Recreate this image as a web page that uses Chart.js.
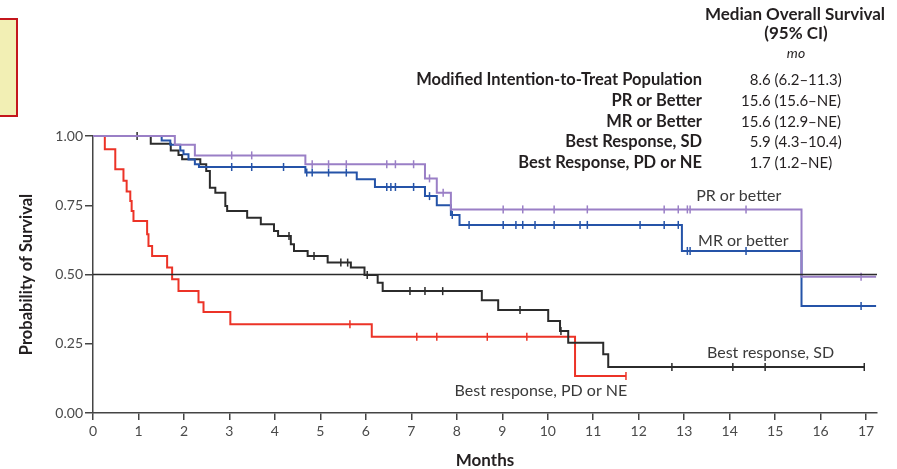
<!DOCTYPE html>
<html>
<head>
<meta charset="utf-8">
<script src="https://cdn.jsdelivr.net/npm/chart.js@4.4.1/dist/chart.umd.min.js"></script>
<style>
html, body { margin: 0; padding: 0; background: #fff; }
#wrap { position: relative; width: 897px; height: 469px; }
#note { position: absolute; left: -3px; top: 18px; width: 17px; height: 95px; background: #f2efb4; border: 2px solid #c4161c; }
</style>
</head>
<body>
<div id="wrap">
  <canvas id="km" width="897" height="469"></canvas>
  <div id="note"></div>
</div>
<script>
// Courbes de Kaplan-Meier : temps des événements (mois) et survie après chaque événement
const prTimes = [1.80, 2.24, 4.67, 7.30, 7.56, 7.87, 15.58];
const prSurv = [0.968, 0.930, 0.898, 0.847, 0.795, 0.735, 0.492];
const prCensor = [3.05, 3.49, 4.82, 5.18, 5.57, 6.46, 6.65, 7.05, 7.40, 7.70,
    9.02, 9.45, 10.14, 10.87, 12.56, 12.87, 13.07, 13.13, 14.36, 16.89];

const mrTimes = [1.51, 1.70, 1.92, 1.99, 2.10, 2.24, 2.33, 4.67, 5.80, 6.20, 7.30, 7.56, 7.87, 8.06, 12.95, 15.58];
const mrSurv = [0.984, 0.968, 0.948, 0.934, 0.915, 0.898, 0.888, 0.868, 0.844, 0.816, 0.783, 0.750, 0.715, 0.679, 0.585, 0.386];
const mrCensor = [3.05, 3.49, 4.19, 4.70, 4.82, 5.18, 5.57, 6.46, 6.55, 6.65, 7.05, 7.40, 7.90,
    8.27, 9.02, 9.30, 9.45, 9.72, 10.14, 10.71, 10.87, 12.03, 12.56, 12.87, 13.07, 13.13, 14.36, 16.89];

const sdTimes = [1.27, 1.71, 1.88, 1.96, 2.36, 2.49, 2.57, 2.69, 2.91, 2.95, 3.39, 3.69, 3.98, 4.07,
    4.35, 4.42, 4.72, 5.16, 5.67, 5.97, 6.26, 6.37, 8.55, 8.91, 10.01, 10.27, 10.45, 11.22, 11.33];
const sdSurv = [0.972, 0.948, 0.931, 0.916, 0.898, 0.874, 0.813, 0.795, 0.747, 0.729, 0.705, 0.681, 0.657, 0.639,
    0.609, 0.585, 0.567, 0.543, 0.525, 0.498, 0.470, 0.440, 0.407, 0.372, 0.332, 0.296, 0.254, 0.212, 0.166];
const sdCensor = [0.97, 4.31, 4.86, 5.45, 5.60, 6.03, 6.97, 7.30, 7.69, 9.39, 10.29, 12.73, 14.07, 14.78, 16.96];

const pdTimes = [0.26, 0.49, 0.67, 0.74, 0.82, 0.85, 0.89, 1.19, 1.22, 1.30, 1.63, 1.74, 1.88, 2.32, 2.43, 3.02, 6.13, 10.60];
const pdSurv = [0.952, 0.880, 0.838, 0.800, 0.765, 0.729, 0.693, 0.645, 0.603, 0.567, 0.525, 0.483, 0.440, 0.400, 0.365, 0.320, 0.275, 0.134];
const pdCensor = [5.65, 7.12, 7.56, 8.67, 9.54, 11.72];

// fin de suivi de chaque courbe
const followUpEnd = [17.22, 17.22, 16.96, 11.72];

const curveNames = ['PR or better', 'MR or better', 'Best response, SD', 'Best response, PD or NE'];

// Tableau des médianes
const tableGroups = ['Modified Intention-to-Treat Population', 'PR or Better', 'MR or Better',
    'Best Response, SD', 'Best Response, PD or NE'];
const tableMedians = ['8.6 (6.2\u201311.3)', '15.6 (15.6\u2013NE)', '15.6 (12.9\u2013NE)',
    '5.9 (4.3\u201310.4)', '1.7 (1.2\u2013NE)'];

const monthMax = 17.24;
const refLevel = 0.5;

const FONT = 'Lato, "Open Sans", sans-serif';
const colors = ['#9a7fc6', '#2553a8', '#2b2b2b', '#ec3327'];

/**
 */
function survAt(times, surv, t){
    let s = 1;
    for(let i = 0; i < times.length; i++){
        if(times[i] <= t) s = surv[i];
    }
    return s;
}

/**
 * Points de la courbe (escalier) : départ à 1, chaque événement, fin du suivi
 */
function stepPoints(times, surv, end){
    let pts = [{x: 0, y: 1}];
    times.forEach(function(t, i){
        pts.push({x: t, y: surv[i]});
    });
    pts.push({x: end, y: surv[surv.length - 1]});
    return pts;
}

function censorPoints(times, surv, censor){
    return censor.map(function(t){
        return {x: t, y: survAt(times, surv, t)};
    });
}

const groups = [
    [prTimes, prSurv, prCensor],
    [mrTimes, mrSurv, mrCensor],
    [sdTimes, sdSurv, sdCensor],
    [pdTimes, pdSurv, pdCensor]
];

let datasets = [{
    label: 'ref',
    data: [{x: 0, y: refLevel}, {x: monthMax, y: refLevel}],
    showLine: true,
    borderColor: '#2b2b2b',
    borderWidth: 1.5,
    pointRadius: 0,
    clip: false
}];

groups.forEach(function(g, i){
    datasets.push({
        label: curveNames[i],
        data: stepPoints(g[0], g[1], followUpEnd[i]),
        showLine: true,
        stepped: true,
        borderColor: colors[i],
        borderWidth: 2,
        pointRadius: 0,
        clip: false
    });
    datasets.push({
        label: curveNames[i] + ' censure',
        data: censorPoints(g[0], g[1], g[2]),
        showLine: false,
        pointStyle: 'line',
        rotation: 90,
        pointRadius: 4,
        borderColor: colors[i],
        borderWidth: 1.5,
        clip: false
    });
});

// position des étiquettes de courbes (mois, survie)
const curveLabelPos = [[14.2, 0.783], [14.3, 0.621], [14.9, 0.217], [9.85, 0.079]];

const textPlugin = {
    id: 'texts',
    afterDraw: function(chart){
        const ctx = chart.ctx;
        const xs = chart.scales.x, ys = chart.scales.y;
        ctx.save();
        ctx.fillStyle = '#3a3a3a';
        ctx.textBaseline = 'middle';
        ctx.textAlign = 'center';
        ctx.font = '16px ' + FONT;
        curveNames.forEach(function(name, i){
            ctx.fillText(name, xs.getPixelForValue(curveLabelPos[i][0]), ys.getPixelForValue(curveLabelPos[i][1]));
        });

        ctx.fillStyle = '#231f20';
        ctx.font = 'bold 17px ' + FONT;
        ctx.fillText('Median Overall Survival', 795, 15);
        ctx.fillText('(95% CI)', 796, 34);
        ctx.font = 'italic 14px ' + FONT;
        ctx.fillText('mo', 796, 53);

        const rowsY = [80, 101, 122, 142, 163];
        tableGroups.forEach(function(name, i){
            ctx.textAlign = 'right';
            ctx.font = 'bold 16.5px ' + FONT;
            ctx.fillText(name, 702, rowsY[i]);
            ctx.textAlign = 'left';
            ctx.font = '15px ' + FONT;
            let v = tableMedians[i];
            let lead = v.indexOf('.') === 1 ? ctx.measureText('1').width : 0;
            ctx.fillText(v, 741 + lead, rowsY[i]);
        });
        ctx.restore();
    }
};

const ctx = document.getElementById('km').getContext('2d');
new Chart(ctx, {
    type: 'scatter',
    data: { datasets: datasets },
    plugins: [textPlugin],
    options: {
        responsive: false,
        animation: false,
        devicePixelRatio: 1,
        layout: { padding: { top: 136, right: 20, left: 0, bottom: 0 } },
        plugins: {
            legend: { display: false },
            tooltip: { enabled: false }
        },
        scales: {
            x: {
                type: 'linear',
                min: 0,
                max: monthMax,
                afterFit: function(scale){ scale.height = 56; },
                ticks: {
                    stepSize: 1,
                    includeBounds: false,
                    color: '#4a4a4a',
                    padding: 3,
                    maxRotation: 0,
                    font: { family: FONT, size: 14 }
                },
                grid: { drawOnChartArea: false, tickLength: 7, color: '#444', lineWidth: 1.5 },
                border: { color: '#444', width: 1.5 },
                title: {
                    display: true,
                    text: 'Months',
                    color: '#231f20',
                    padding: { top: 0, bottom: 0 },
                    font: { family: FONT, size: 17, weight: 'bold', lineHeight: 1 }
                }
            },
            y: {
                min: 0,
                max: 1,
                afterFit: function(scale){ scale.width = 93; },
                ticks: {
                    stepSize: 0.25,
                    color: '#4a4a4a',
                    padding: 2,
                    font: { family: FONT, size: 14 },
                    callback: function(v){ return v.toFixed(2); }
                },
                grid: { drawOnChartArea: false, tickLength: 8, color: '#444', lineWidth: 1.5 },
                border: { color: '#444', width: 1.5 },
                title: {
                    display: true,
                    text: 'Probability of Survival',
                    color: '#231f20',
                    padding: { top: 18, bottom: 0 },
                    font: { family: FONT, size: 16.5, weight: 'bold', lineHeight: 1 }
                }
            }
        }
    }
});
</script>
</body>
</html>
